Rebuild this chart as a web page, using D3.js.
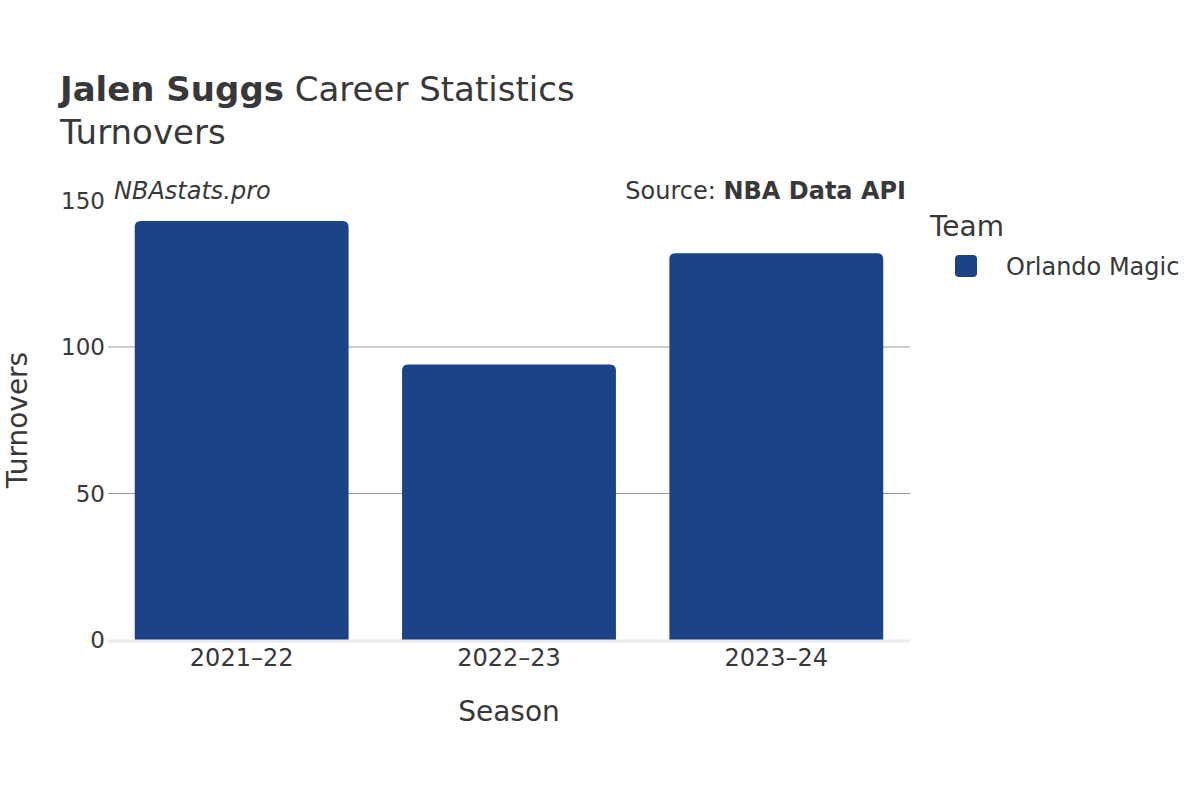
<!DOCTYPE html>
<html><head><meta charset="utf-8">
<script src="https://cdn.jsdelivr.net/npm/d3@7"></script>
<style>body{margin:0;background:#fff}svg{font-family:"DejaVu Sans",sans-serif}</style>
</head><body><svg id="c" width="1200" height="800"></svg>
<script>
const seasons = ["2021–22","2022–23","2023–24"];
const turnovers = [143, 94, 132];
const yTicks = [0, 50, 100, 150];
const team = "Orlando Magic";
const color = "#1c4288";
const txt = "#383838";

const svg = d3.select("#c");
const m = {l:108, r:910, t:200.5, b:640};
const x = d3.scaleBand().domain(seasons).range([m.l, m.r]).paddingInner(0.2).paddingOuter(0.1);
const y = d3.scaleLinear().domain([0,150]).range([m.b, m.t]);

// gridlines
svg.append("g").selectAll("line").data(yTicks.filter(d=>d>0 && d<150)).join("line")
  .attr("x1", m.l).attr("x2", m.r).attr("y1", d=>y(d)).attr("y2", d=>y(d))
  .attr("stroke", "#9a9a9a").attr("stroke-width", 1);

// bars with rounded top corners
const r = 6;
svg.append("g").selectAll("path").data(seasons).join("path")
  .attr("fill", color)
  .attr("d", (s,i)=>{
    const x0 = x(s), w = x.bandwidth(), y0 = y(turnovers[i]), yb = y(0);
    return `M${x0},${yb}V${y0+r}Q${x0},${y0} ${x0+r},${y0}H${x0+w-r}Q${x0+w},${y0} ${x0+w},${y0+r}V${yb}Z`;
  });

// zero line
svg.append("line").attr("x1", m.l).attr("x2", m.r).attr("y1", y(0)+1).attr("y2", y(0)+1)
  .attr("stroke", "#ebebeb").attr("stroke-width", 3);

// y tick labels
svg.append("g").selectAll("text").data(yTicks).join("text")
  .attr("x", 105).attr("y", d=>y(d)+8).attr("text-anchor","end")
  .attr("font-size", 23).attr("fill", txt).text(d=>d);

// x tick labels
svg.append("g").selectAll("text").data(seasons).join("text")
  .attr("x", d=>x(d)+x.bandwidth()/2).attr("y", 666).attr("text-anchor","middle")
  .attr("font-size", 24).attr("fill", txt).text(d=>d);

// axis titles
svg.append("text").attr("x", (m.l+m.r)/2).attr("y", 721).attr("text-anchor","middle")
  .attr("font-size", 28).attr("fill", txt).text("Season");
svg.append("text").attr("transform", "translate(27,420) rotate(-90)").attr("text-anchor","middle")
  .attr("font-size", 28).attr("fill", txt).text("Turnovers");

// title
const t = svg.append("text").attr("x", 60).attr("y", 101).attr("font-size", 34).attr("fill", txt);
t.append("tspan").attr("font-weight","bold").text("Jalen Suggs");
t.append("tspan").text(" Career Statistics");
svg.append("text").attr("x", 60).attr("y", 144).attr("font-size", 34).attr("fill", txt).text("Turnovers");

// annotations
svg.append("text").attr("x", 114).attr("y", 199).attr("font-size", 24).attr("font-style","italic")
  .attr("fill", txt).text("NBAstats.pro");
const s = svg.append("text").attr("x", 906).attr("y", 199).attr("text-anchor","end").attr("font-size", 24).attr("fill", txt);
s.append("tspan").text("Source: ");
s.append("tspan").attr("font-weight","bold").text("NBA Data API");

// legend
svg.append("text").attr("x", 930).attr("y", 236).attr("font-size", 28).attr("fill", txt).text("Team");
svg.append("rect").attr("x", 955).attr("y", 255).attr("width", 22).attr("height", 22).attr("rx", 4)
  .attr("fill", color);
svg.append("text").attr("x", 1006).attr("y", 275).attr("font-size", 24).attr("fill", txt).text(team);
</script></body></html>
